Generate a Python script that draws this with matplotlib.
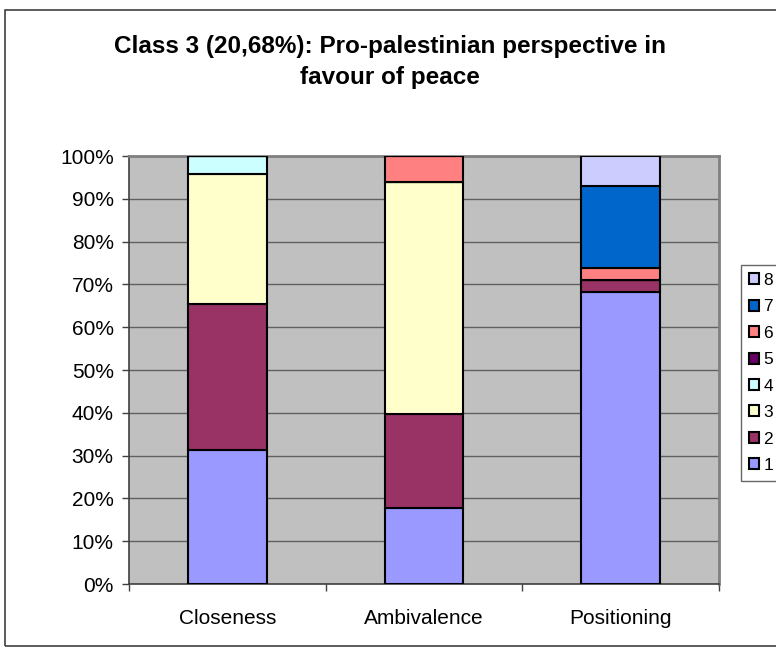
import matplotlib
matplotlib.use("Agg")
import matplotlib.pyplot as plt
from matplotlib.patches import Rectangle
import numpy as np

plt.rcParams['font.family'] = ['Liberation Sans', 'DejaVu Sans']

categories = ["Closeness", "Ambivalence", "Positioning"]
series_names = ["1", "2", "3", "4", "5", "6", "7", "8"]
s1 = [31.3, 17.7, 68.2]
s2 = [34.1, 22.0, 2.8]
s3 = [30.3, 54.2, 0.0]
s4 = [4.3, 0.0, 0.0]
s5 = [0.0, 0.0, 0.0]
s6 = [0.0, 6.1, 2.8]
s7 = [0.0, 0.0, 19.1]
s8 = [0.0, 0.0, 7.1]
series_values = [s1, s2, s3, s4, s5, s6, s7, s8]
colors = ["#9999FF", "#993366", "#FFFFCC", "#CCFFFF", "#660066", "#FF8080", "#0066CC", "#CCCCFF"]
ytick_labels = ["0%", "10%", "20%", "30%", "40%", "50%", "60%", "70%", "80%", "90%", "100%"]
title = "Class 3 (20,68%): Pro-palestinian perspective in\nfavour of peace"

W, H = 776, 651
fig = plt.figure(figsize=(W / 100, H / 100), dpi=100)
ax = fig.add_axes([129 / W, 1 - 584 / H, (719 - 129) / W, (584 - 156) / H])
ax.set_facecolor("#C0C0C0")

x = np.arange(len(categories))
bottom = np.zeros(len(categories))
for name, vals, c in zip(series_names, series_values, colors):
    v = np.array(vals)
    ax.bar(x, v, 0.4, bottom=bottom, color=c, edgecolor="black", linewidth=1.5, label=name, zorder=3)
    bottom += v

ax.set_xlim(-0.5, 2.5)
ax.set_ylim(0, 100)
ax.set_yticks(np.arange(0, 101, 10))
ax.set_yticklabels(ytick_labels, fontsize=15)
ax.yaxis.grid(True, color="#606060", linewidth=1.0, zorder=0)
ax.set_axisbelow(True)
ax.set_xticks(x)
ax.set_xticklabels(categories, fontsize=15)
ax.tick_params(axis="x", length=0, pad=18)
ax.set_xticks([-0.5, 0.5, 1.5, 2.5], minor=True)
ax.tick_params(axis="x", which="minor", length=5, color="#404040", width=1)
ax.tick_params(axis="y", length=5, color="#404040", width=1, pad=6)
for side in ["left", "bottom"]:
    ax.spines[side].set_color("#404040")
    ax.spines[side].set_linewidth(1.2)
for side in ["top", "right"]:
    ax.spines[side].set_color("#808080")
    ax.spines[side].set_linewidth(2)

fig.text(390 / W, 1 - 62 / H, title, ha="center", va="center", fontsize=17.5,
         fontweight="bold", linespacing=1.45)

handles, labels = ax.get_legend_handles_labels()
leg = fig.legend(handles[::-1], labels[::-1], loc="upper left",
                 bbox_to_anchor=(741 / W, 1 - 265 / H), fontsize=12.5,
                 frameon=True, fancybox=False, edgecolor="#404040",
                 handlelength=0.6, handleheight=0.6, handletextpad=0.25,
                 labelspacing=0.66, borderpad=0.45, borderaxespad=0)
leg.get_frame().set_linewidth(1.0)
for p in leg.get_patches():
    p.set_linewidth(1.5)

fig.patches.append(Rectangle((5 / W, 1 - 646 / H), 790 / W, 636 / H, transform=fig.transFigure,
                             fill=False, edgecolor="#404040", linewidth=1.2))

fig.savefig("out.png", dpi=100)
